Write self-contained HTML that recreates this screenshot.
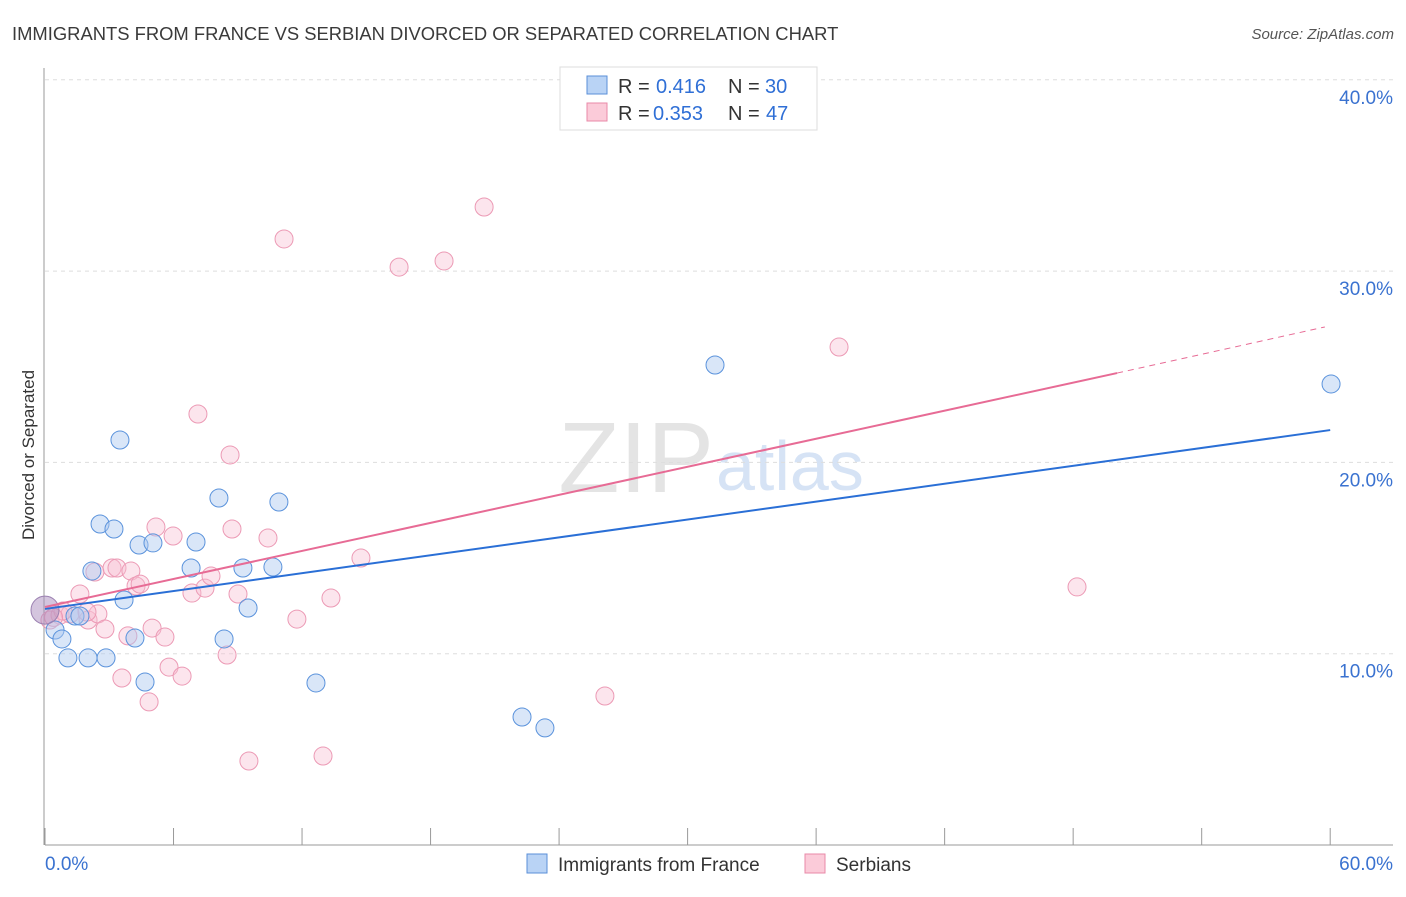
<!DOCTYPE html>
<html><head><meta charset="utf-8"><style>
body{margin:0;background:#fff;font-family:"Liberation Sans",sans-serif}
svg text{font-family:"Liberation Sans",sans-serif}
</style></head><body>
<svg id="chart" width="1406" height="892" viewBox="0 0 1406 892">
<text x="12" y="40" font-size="18.4" fill="#3a3a3a">IMMIGRANTS FROM FRANCE VS SERBIAN DIVORCED OR SEPARATED CORRELATION CHART</text>
<text x="1394" y="39" font-size="15" fill="#555" text-anchor="end" font-style="italic">Source: ZipAtlas.com</text>
<text x="714" y="492" font-size="100" fill="#e4e4e4" text-anchor="end" font-family="Liberation Serif">ZIP</text>
<text x="716" y="490" font-size="70" fill="#d6e3f5">atlas</text>
<g id="grid"></g><g id="axes"></g><g id="marks"></g>
<text transform="translate(34,455) rotate(-90)" font-size="17" fill="#333" text-anchor="middle">Divorced or Separated</text>
<g>
<rect x="560" y="67" width="257" height="63" fill="#fff" stroke="#ddd"/>
<rect x="587" y="76" width="20" height="18" fill="#b9d3f5" stroke="#5a8fd8"/>
<rect x="587" y="103" width="20" height="18" fill="#fbcbd9" stroke="#e88aa8"/>
<text x="618" y="93" font-size="20" fill="#333">R =</text>
<text x="656" y="93" font-size="20" fill="#2f6fd6">0.416</text>
<text x="728" y="93" font-size="20" fill="#333">N =</text>
<text x="765" y="93" font-size="20" fill="#2f6fd6">30</text>
<text x="618" y="120" font-size="20" fill="#333">R =</text>
<text x="653" y="120" font-size="20" fill="#2f6fd6">0.353</text>
<text x="728" y="120" font-size="20" fill="#333">N =</text>
<text x="766" y="120" font-size="20" fill="#2f6fd6">47</text>
</g>
<g>
<rect x="527" y="854" width="20" height="19" fill="#b9d3f5" stroke="#5a8fd8"/>
<text x="558" y="871" font-size="19" fill="#333">Immigrants from France</text>
<rect x="805" y="854" width="20" height="19" fill="#fbcbd9" stroke="#e88aa8"/>
<text x="836" y="871" font-size="19" fill="#333">Serbians</text>
</g>
</svg>
<script>
const yTicks=[10,20,30,40];
const yTickLabels=["10.0%","20.0%","30.0%","40.0%"];
const xTickLabels=["0.0%","60.0%"];
const franceX=[0,0.47,0.79,1.07,2.01,2.85,2.57,3.22,3.50,2.19,3.69,4.39,5.04,4.20,4.67,6.82,7.05,8.12,8.36,9.24,9.48,10.64,10.92,12.65,22.27,23.34,31.28,60.04,1.40,1.63];
const franceY=[12.28,11.24,10.77,9.78,9.78,9.78,16.78,16.52,21.17,14.32,12.81,15.68,15.79,10.82,8.52,14.48,15.84,18.14,10.77,14.48,12.39,14.53,17.93,8.47,6.69,6.12,25.09,24.10,11.97,11.97];
const serbX=[0,0.23,0.70,1.17,1.63,2.01,2.33,2.47,2.80,3.13,3.36,3.59,3.87,4.01,4.25,4.44,4.86,5.00,5.18,5.60,5.79,5.98,6.40,6.86,7.14,7.47,7.75,8.50,8.64,8.73,9.01,9.52,10.41,11.16,11.76,12.98,13.35,14.75,16.53,18.63,20.50,26.14,37.07,48.18,0.84,1.96,0.4];
const serbY=[12.02,11.76,12.02,12.08,13.12,11.76,14.27,12.08,11.29,14.48,14.48,8.73,10.93,14.32,13.54,13.64,7.48,11.34,16.62,10.87,9.30,16.15,8.83,13.17,22.53,13.43,14.06,9.93,20.39,16.52,13.12,4.39,16.05,31.68,11.81,4.65,12.91,15.00,30.21,30.53,33.35,7.79,26.03,13.49,12.23,12.18,11.9];
const franceTrend=[12.34,21.69];
const serbTrend=[12.44,24.67,27.08];
const serbTrendX=[0,50.05,59.75];
const NS="http://www.w3.org/2000/svg";
const X=v=>45+v*21.42, Y=v=>845-v*19.13;
function mk(p,t,a){const e=document.createElementNS(NS,t);for(const k in a)e.setAttribute(k,a[k]);p.appendChild(e);return e;}
const grid=document.getElementById('grid'),axes=document.getElementById('axes'),marks=document.getElementById('marks');
yTicks.forEach((t,i)=>{
 const l=mk(grid,'line',{x1:45,x2:1393,y1:Y(t),y2:Y(t),stroke:'#ddd','stroke-dasharray':'4,4'});
 
 
 const tx=mk(grid,'text',{x:1393,y:Y(t)+24,'font-size':19,fill:'#3a72d0','text-anchor':'end'});
 tx.textContent=yTickLabels[i];
 
 
});
const xl=mk(axes,'line',{x1:45,x2:1393,y1:845,y2:845,stroke:'#999'});


const yl=mk(axes,'line',{x1:44,x2:44,y1:68,y2:845,stroke:'#999'});


for(let i=0;i<=10;i++){const v=i*6;const t=mk(axes,'line',{x1:X(v),x2:X(v),y1:828,y2:845,stroke:'#999'});
 
 }
[[0,'start'],[60,'end']].forEach((p,i)=>{const t=mk(axes,'text',{x:i?1393:45,y:870,'font-size':19,fill:'#3a72d0','text-anchor':p[1]});t.textContent=xTickLabels[i];
 
 });
serbX.forEach((x,i)=>{if(i===0)return;const c=mk(marks,'circle',{cx:X(x),cy:Y(serbY[i]),r:9,fill:'rgba(248,190,210,0.4)',stroke:'#ec9ab5','stroke-width':1});
 
 });
franceX.forEach((x,i)=>{if(i===0)return;const c=mk(marks,'circle',{cx:X(x),cy:Y(franceY[i]),r:9,fill:'rgba(170,200,240,0.45)',stroke:'#5b93dc','stroke-width':1});
 
 });
const big=mk(marks,'circle',{cx:X(franceX[0]),cy:Y(franceY[0]),r:14,fill:'rgba(170,140,190,0.5)',stroke:'#9a7fb0','stroke-width':1});


const bl=mk(marks,'line',{x1:X(0),y1:Y(franceTrend[0]),x2:X(60),y2:Y(franceTrend[1]),stroke:'#2a6fd6','stroke-width':2});


const pl=mk(marks,'line',{x1:X(serbTrendX[0]),y1:Y(serbTrend[0]),x2:X(serbTrendX[1]),y2:Y(serbTrend[1]),stroke:'#e76b95','stroke-width':2});


const pd=mk(marks,'line',{x1:X(serbTrendX[1]),y1:Y(serbTrend[1]),x2:X(serbTrendX[2]),y2:Y(serbTrend[2]),stroke:'#e76b95','stroke-width':1,'stroke-dasharray':'6,5'});


</script>
</body></html>
